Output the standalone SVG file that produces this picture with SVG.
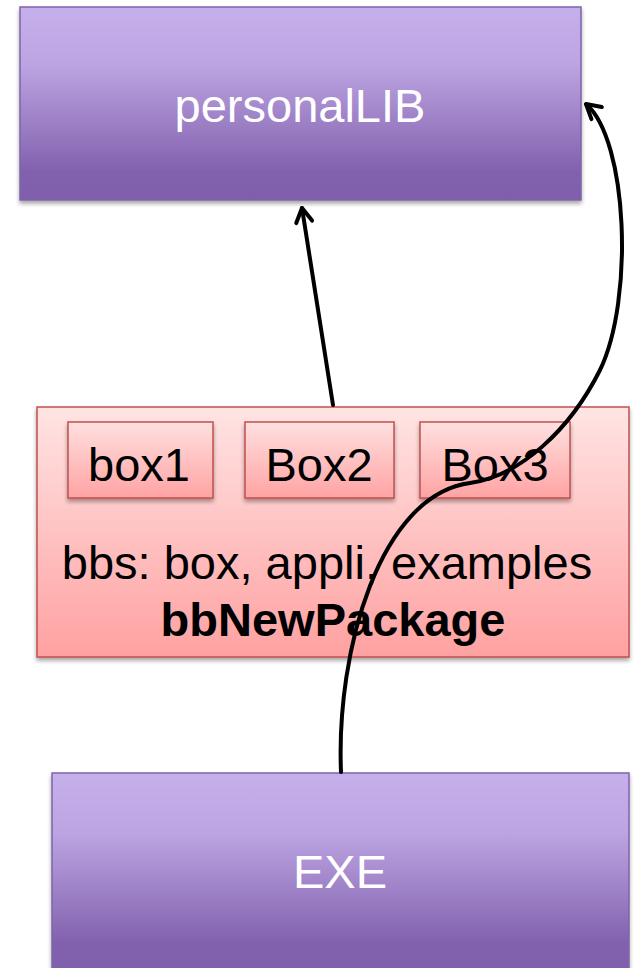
<svg xmlns="http://www.w3.org/2000/svg" width="635" height="968" viewBox="0 0 635 968">
<defs>
<linearGradient id="purp" x1="0" y1="0" x2="0" y2="1">
<stop offset="0" stop-color="#C6B0EB"/><stop offset="0.3" stop-color="#BCA4E2"/><stop offset="0.85" stop-color="#8261AE"/><stop offset="1" stop-color="#7F5EAB"/>
</linearGradient>
<linearGradient id="pink" x1="0" y1="0" x2="0" y2="1">
<stop offset="0" stop-color="#FFE4E4"/><stop offset="1" stop-color="#FFA1A1"/>
</linearGradient>
<linearGradient id="pinkS" x1="0" y1="0" x2="0" y2="1">
<stop offset="0" stop-color="#FFE0E0"/><stop offset="1" stop-color="#FFA3A3"/>
</linearGradient>
<filter id="sh" x="-5%" y="-5%" width="110%" height="115%">
<feGaussianBlur in="SourceAlpha" stdDeviation="2"/><feOffset dx="0" dy="3"/>
<feComponentTransfer><feFuncA type="linear" slope="0.35"/></feComponentTransfer>
<feMerge><feMergeNode/><feMergeNode in="SourceGraphic"/></feMerge>
</filter>
<marker id="arr" viewBox="0 0 20 20" refX="18" refY="10" markerWidth="20" markerHeight="20" markerUnits="userSpaceOnUse" orient="auto">
<path d="M4,2 L18,10 L4,18" fill="none" stroke="#000" stroke-width="4" stroke-linecap="round" stroke-linejoin="round"/>
</marker>
<style>
.pu{fill:url(#purp);stroke:#7F63AA;stroke-width:1.5}
.pk{fill:url(#pink);stroke:#C0504D;stroke-width:1.5}
.pks{fill:url(#pinkS);stroke:#C0504D;stroke-width:1.5}
.wt{font-family:"Liberation Sans",Arial,sans-serif;fill:#fff;font-size:47px;text-anchor:middle}
.bt{font-family:"Liberation Sans",Arial,sans-serif;fill:#000;font-size:47px;text-anchor:middle}
.cn{fill:none;stroke:#000;stroke-width:4;stroke-linecap:round}
</style>
</defs>
<g id="personalLIB">
<rect class="pu" x="20" y="7" width="561" height="193" filter="url(#sh)"/>
<text class="wt" x="300" y="122">personalLIB</text>
</g>
<g id="bbNewPackage">
<rect class="pk" x="37" y="407" width="592" height="250" filter="url(#sh)"/>
<text class="bt" x="327" y="579" font-size="48">bbs: box, appli, examples</text>
<text class="bt" x="333" y="636" font-weight="bold" font-size="48">bbNewPackage</text>
</g>
<g id="box1">
<rect class="pks" x="68" y="422" width="145" height="76" filter="url(#sh)"/>
<text class="bt" x="139" y="481">box1</text>
</g>
<g id="box2">
<rect class="pks" x="245" y="422" width="149" height="76" filter="url(#sh)"/>
<text class="bt" x="319" y="481">Box2</text>
</g>
<g id="box3">
<rect class="pks" x="420" y="422" width="150" height="76" filter="url(#sh)"/>
<text class="bt" x="495" y="481">Box3</text>
</g>
<g id="EXE">
<rect class="pu" x="52" y="773" width="577" height="200" filter="url(#sh)"/>
<text class="wt" x="340" y="888" font-size="46">EXE</text>
</g>
<g id="connectors">
<path class="cn" d="M333,405 L302,208" marker-end="url(#arr)"/>
<path class="cn" d="M341,772 C336,650 380,495 470,483 C520,476 570,430 600,370 C634,300 628,140 586,104" marker-end="url(#arr)"/>
</g>
</svg>
